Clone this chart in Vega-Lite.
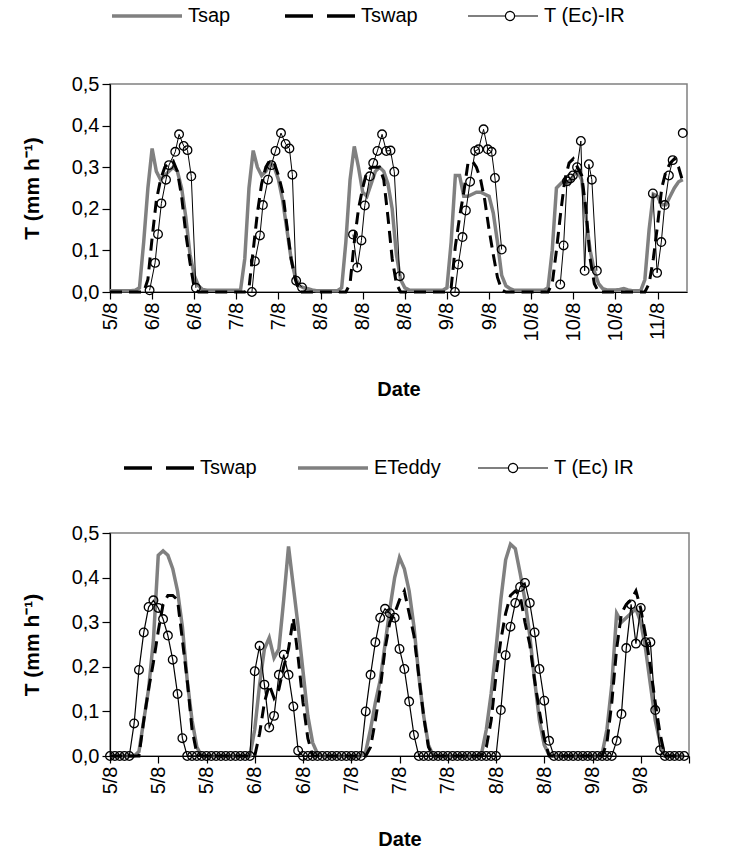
{
  "$schema": "https://vega.github.io/schema/vega-lite/v6.json",
  "padding": {"left": 20, "top": 5, "right": 5, "bottom": 0},
  "config": {
    "font": "Liberation Sans",
    "view": {"stroke": "#808080", "strokeWidth": 1.5},
    "axis": {"grid": false, "domainColor": "black", "tickColor": "black", "labelColor": "black", "titleColor": "black", "labelFont": "Liberation Sans", "titleFont": "Liberation Sans", "labelFontSize": 20, "titleFontSize": 20, "titleFontWeight": "bold", "domainWidth": 1.2, "tickWidth": 1.2},
    "axisY": {"titleFontSize": 21},
    "legend": {"labelFontSize": 20, "labelFont": "Liberation Sans", "labelColor": "black"}
  },
  "datasets": {
    "top": [
      {"i":0,"Tsap":0.003,"Tswap":0},{"i":1,"Tsap":0.003,"Tswap":0},{"i":2,"Tsap":0.003,"Tswap":0},{"i":3,"Tsap":0.003,"Tswap":0},{"i":4,"Tsap":0.003,"Tswap":0},{"i":5,"Tsap":0.003,"Tswap":0},{"i":6,"Tsap":0.004,"Tswap":0},{"i":7,"Tsap":0.01,"Tswap":0},{"i":8,"Tsap":0.12,"Tswap":0},{"i":9,"Tsap":0.25,"Tswap":0.03},
      {"i":10,"Tsap":0.345,"Tswap":0.13},{"i":11,"Tsap":0.29,"Tswap":0.22},{"i":12,"Tsap":0.27,"Tswap":0.27},{"i":13,"Tsap":0.28,"Tswap":0.30},{"i":14,"Tsap":0.29,"Tswap":0.31},{"i":15,"Tsap":0.30,"Tswap":0.315},{"i":16,"Tsap":0.29,"Tswap":0.29},{"i":17,"Tsap":0.25,"Tswap":0.23},{"i":18,"Tsap":0.18,"Tswap":0.14},{"i":19,"Tsap":0.09,"Tswap":0.07},
      {"i":20,"Tsap":0.04,"Tswap":0.01},{"i":21,"Tsap":0.015,"Tswap":0},{"i":22,"Tsap":0.006,"Tswap":0},{"i":23,"Tsap":0.004,"Tswap":0},{"i":24,"Tsap":0.004,"Tswap":0},{"i":25,"Tsap":0.004,"Tswap":0},{"i":26,"Tsap":0.004,"Tswap":0},{"i":27,"Tsap":0.004,"Tswap":0},{"i":28,"Tsap":0.004,"Tswap":0},{"i":29,"Tsap":0.004,"Tswap":0},
      {"i":30,"Tsap":0.004,"Tswap":0},{"i":31,"Tsap":0.005,"Tswap":0},{"i":32,"Tsap":0.08,"Tswap":0},{"i":33,"Tsap":0.25,"Tswap":0.01},{"i":34,"Tsap":0.34,"Tswap":0.10},{"i":35,"Tsap":0.30,"Tswap":0.19},{"i":36,"Tsap":0.28,"Tswap":0.26},{"i":37,"Tsap":0.29,"Tswap":0.30},{"i":38,"Tsap":0.31,"Tswap":0.317},{"i":39,"Tsap":0.30,"Tswap":0.31},
      {"i":40,"Tsap":0.27,"Tswap":0.28},{"i":41,"Tsap":0.22,"Tswap":0.24},{"i":42,"Tsap":0.15,"Tswap":0.16},{"i":43,"Tsap":0.08,"Tswap":0.08},{"i":44,"Tsap":0.035,"Tswap":0.03},{"i":45,"Tsap":0.015,"Tswap":0},{"i":46,"Tsap":0.01,"Tswap":0},{"i":47,"Tsap":0.008,"Tswap":0},{"i":48,"Tsap":0.005,"Tswap":0},{"i":49,"Tsap":0.003,"Tswap":0},
      {"i":50,"Tsap":0.003,"Tswap":0},{"i":51,"Tsap":0.003,"Tswap":0},{"i":52,"Tsap":0.003,"Tswap":0},{"i":53,"Tsap":0.003,"Tswap":0},{"i":54,"Tsap":0.003,"Tswap":0},{"i":55,"Tsap":0.01,"Tswap":0},{"i":56,"Tsap":0.12,"Tswap":0},{"i":57,"Tsap":0.27,"Tswap":0.02},{"i":58,"Tsap":0.35,"Tswap":0.12},{"i":59,"Tsap":0.30,"Tswap":0.20},
      {"i":60,"Tsap":0.24,"Tswap":0.25},{"i":61,"Tsap":0.23,"Tswap":0.29},{"i":62,"Tsap":0.26,"Tswap":0.30},{"i":63,"Tsap":0.29,"Tswap":0.30},{"i":64,"Tsap":0.30,"Tswap":0.30},{"i":65,"Tsap":0.29,"Tswap":0.27},{"i":66,"Tsap":0.26,"Tswap":0.18},{"i":67,"Tsap":0.20,"Tswap":0.08},{"i":68,"Tsap":0.09,"Tswap":0.02},{"i":69,"Tsap":0.03,"Tswap":0},
      {"i":70,"Tsap":0.01,"Tswap":0},{"i":71,"Tsap":0.005,"Tswap":0},{"i":72,"Tsap":0.004,"Tswap":0},{"i":73,"Tsap":0.004,"Tswap":0},{"i":74,"Tsap":0.004,"Tswap":0},{"i":75,"Tsap":0.004,"Tswap":0},{"i":76,"Tsap":0.004,"Tswap":0},{"i":77,"Tsap":0.004,"Tswap":0},{"i":78,"Tsap":0.004,"Tswap":0},{"i":79,"Tsap":0.004,"Tswap":0},
      {"i":80,"Tsap":0.01,"Tswap":0},{"i":81,"Tsap":0.12,"Tswap":0.01},{"i":82,"Tsap":0.28,"Tswap":0.11},{"i":83,"Tsap":0.28,"Tswap":0.18},{"i":84,"Tsap":0.23,"Tswap":0.24},{"i":85,"Tsap":0.23,"Tswap":0.31},{"i":86,"Tsap":0.235,"Tswap":0.315},{"i":87,"Tsap":0.24,"Tswap":0.30},{"i":88,"Tsap":0.24,"Tswap":0.27},{"i":89,"Tsap":0.235,"Tswap":0.22},
      {"i":90,"Tsap":0.23,"Tswap":0.15},{"i":91,"Tsap":0.19,"Tswap":0.09},{"i":92,"Tsap":0.12,"Tswap":0.035},{"i":93,"Tsap":0.04,"Tswap":0.005},{"i":94,"Tsap":0.015,"Tswap":0},{"i":95,"Tsap":0.008,"Tswap":0},{"i":96,"Tsap":0.004,"Tswap":0},{"i":97,"Tsap":0.004,"Tswap":0},{"i":98,"Tsap":0.004,"Tswap":0},{"i":99,"Tsap":0.004,"Tswap":0},
      {"i":100,"Tsap":0.004,"Tswap":0},{"i":101,"Tsap":0.004,"Tswap":0},{"i":102,"Tsap":0.004,"Tswap":0},{"i":103,"Tsap":0.004,"Tswap":0},{"i":104,"Tsap":0.01,"Tswap":0},{"i":105,"Tsap":0.10,"Tswap":0.02},{"i":106,"Tsap":0.25,"Tswap":0.10},{"i":107,"Tsap":0.26,"Tswap":0.19},{"i":108,"Tsap":0.27,"Tswap":0.27},{"i":109,"Tsap":0.26,"Tswap":0.31},
      {"i":110,"Tsap":0.28,"Tswap":0.32},{"i":111,"Tsap":0.29,"Tswap":0.30},{"i":112,"Tsap":0.27,"Tswap":0.28},{"i":113,"Tsap":0.18,"Tswap":0.20},{"i":114,"Tsap":0.10,"Tswap":0.08},{"i":115,"Tsap":0.05,"Tswap":0.02},{"i":116,"Tsap":0.02,"Tswap":0},{"i":117,"Tsap":0.008,"Tswap":0},{"i":118,"Tsap":0.005,"Tswap":0},{"i":119,"Tsap":0.005,"Tswap":0},
      {"i":120,"Tsap":0.005,"Tswap":0},{"i":121,"Tsap":0.006,"Tswap":0},{"i":122,"Tsap":0.008,"Tswap":0},{"i":123,"Tsap":0.005,"Tswap":0},{"i":124,"Tsap":0.003,"Tswap":0},{"i":125,"Tsap":0.003,"Tswap":0},{"i":126,"Tsap":0.003,"Tswap":0},{"i":127,"Tsap":0.03,"Tswap":0},{"i":128,"Tsap":0.15,"Tswap":0.02},{"i":129,"Tsap":0.235,"Tswap":0.08},
      {"i":130,"Tsap":0.23,"Tswap":0.16},{"i":131,"Tsap":0.21,"Tswap":0.25},{"i":132,"Tsap":0.21,"Tswap":0.29},{"i":133,"Tsap":0.23,"Tswap":0.31},{"i":134,"Tsap":0.25,"Tswap":0.32},{"i":135,"Tsap":0.265,"Tswap":0.30},{"i":136,"Tsap":0.27,"Tswap":0.265}
    ],
    "topir": [
      {"i":9.4,"v":0.004,"seg":1},{"i":10.7,"v":0.07,"seg":1},{"i":11.4,"v":0.139,"seg":1},{"i":12.2,"v":0.213,"seg":1},{"i":13.3,"v":0.27,"seg":1},{"i":14.0,"v":0.305,"seg":1},{"i":15.5,"v":0.337,"seg":1},{"i":16.4,"v":0.379,"seg":1},{"i":17.5,"v":0.351,"seg":1},{"i":18.4,"v":0.341,"seg":1},{"i":19.3,"v":0.278,"seg":1},{"i":20.4,"v":0.01,"seg":1},
      {"i":33.7,"v":0.0,"seg":2},{"i":34.4,"v":0.074,"seg":2},{"i":35.6,"v":0.136,"seg":2},{"i":36.3,"v":0.209,"seg":2},{"i":37.5,"v":0.27,"seg":2},{"i":38.3,"v":0.305,"seg":2},{"i":39.3,"v":0.339,"seg":2},{"i":40.6,"v":0.382,"seg":2},{"i":41.7,"v":0.356,"seg":2},{"i":42.6,"v":0.345,"seg":2},{"i":43.3,"v":0.282,"seg":2},{"i":44.2,"v":0.027,"seg":2},{"i":45.6,"v":0.011,"seg":2},
      {"i":57.7,"v":0.138,"seg":3},{"i":58.7,"v":0.059,"seg":3},{"i":59.7,"v":0.124,"seg":3},{"i":60.5,"v":0.208,"seg":3},{"i":61.7,"v":0.278,"seg":3},{"i":62.5,"v":0.31,"seg":3},{"i":63.5,"v":0.339,"seg":3},{"i":64.6,"v":0.379,"seg":3},{"i":65.6,"v":0.339,"seg":3},{"i":66.6,"v":0.34,"seg":3},{"i":67.5,"v":0.289,"seg":3},{"i":68.8,"v":0.038,"seg":3},
      {"i":81.9,"v":0.0,"seg":4},{"i":82.7,"v":0.066,"seg":4},{"i":83.7,"v":0.132,"seg":4},{"i":84.5,"v":0.196,"seg":4},{"i":85.5,"v":0.265,"seg":4},{"i":86.7,"v":0.339,"seg":4},{"i":87.5,"v":0.343,"seg":4},{"i":88.7,"v":0.391,"seg":4},{"i":89.7,"v":0.343,"seg":4},{"i":90.6,"v":0.337,"seg":4},{"i":91.4,"v":0.274,"seg":4},{"i":93.0,"v":0.102,"seg":4},
      {"i":106.9,"v":0.018,"seg":5},{"i":107.7,"v":0.112,"seg":5},{"i":108.5,"v":0.266,"seg":5},{"i":109.3,"v":0.273,"seg":5},{"i":109.9,"v":0.28,"seg":5},{"i":110.9,"v":0.30,"seg":5},{"i":111.8,"v":0.363,"seg":5},{"i":112.7,"v":0.051,"seg":5},{"i":113.7,"v":0.307,"seg":5},{"i":114.4,"v":0.27,"seg":5},{"i":115.6,"v":0.051,"seg":5},
      {"i":128.9,"v":0.237,"seg":6},{"i":129.9,"v":0.046,"seg":6},{"i":130.9,"v":0.12,"seg":6},{"i":131.7,"v":0.209,"seg":6},{"i":132.7,"v":0.28,"seg":6},{"i":133.6,"v":0.317,"seg":6},
      {"i":136.0,"v":0.382,"seg":7}
    ],
    "bot": [
      {"i":0,"Tswap":0,"ETeddy":0,"IR":0},{"i":1,"Tswap":0,"ETeddy":0,"IR":0},{"i":2,"Tswap":0,"ETeddy":0,"IR":0},{"i":3,"Tswap":0,"ETeddy":0,"IR":0},{"i":4,"Tswap":0,"ETeddy":0,"IR":0},{"i":5,"Tswap":0,"ETeddy":0,"IR":0.073},{"i":6,"Tswap":0,"ETeddy":0.01,"IR":0.193},{"i":7,"Tswap":0.08,"ETeddy":0.08,"IR":0.277},{"i":8,"Tswap":0.15,"ETeddy":0.15,"IR":0.334},{"i":9,"Tswap":0.21,"ETeddy":0.26,"IR":0.349},
      {"i":10,"Tswap":0.28,"ETeddy":0.45,"IR":0.332},{"i":11,"Tswap":0.34,"ETeddy":0.46,"IR":0.307},{"i":12,"Tswap":0.36,"ETeddy":0.45,"IR":0.27},{"i":13,"Tswap":0.36,"ETeddy":0.42,"IR":0.216},{"i":14,"Tswap":0.35,"ETeddy":0.37,"IR":0.139},{"i":15,"Tswap":0.26,"ETeddy":0.29,"IR":0.04},{"i":16,"Tswap":0.17,"ETeddy":0.17,"IR":0},{"i":17,"Tswap":0.06,"ETeddy":0.08,"IR":0},{"i":18,"Tswap":0.005,"ETeddy":0.02,"IR":0},{"i":19,"Tswap":0,"ETeddy":0,"IR":0},
      {"i":20,"Tswap":0,"ETeddy":0,"IR":0},{"i":21,"Tswap":0,"ETeddy":0,"IR":0},{"i":22,"Tswap":0,"ETeddy":0,"IR":0},{"i":23,"Tswap":0,"ETeddy":0,"IR":0},{"i":24,"Tswap":0,"ETeddy":0,"IR":0},{"i":25,"Tswap":0,"ETeddy":0,"IR":0},{"i":26,"Tswap":0,"ETeddy":0,"IR":0},{"i":27,"Tswap":0,"ETeddy":0,"IR":0},{"i":28,"Tswap":0,"ETeddy":0,"IR":0},{"i":29,"Tswap":0,"ETeddy":0,"IR":0},
      {"i":30,"Tswap":0,"ETeddy":0.06,"IR":0.19},{"i":31,"Tswap":0.05,"ETeddy":0.16,"IR":0.247},{"i":32,"Tswap":0.12,"ETeddy":0.24,"IR":0.16},{"i":33,"Tswap":0.16,"ETeddy":0.265,"IR":0.064},{"i":34,"Tswap":0.13,"ETeddy":0.22,"IR":0.09},{"i":35,"Tswap":0.15,"ETeddy":0.24,"IR":0.182},{"i":36,"Tswap":0.2,"ETeddy":0.35,"IR":0.227},{"i":37,"Tswap":0.24,"ETeddy":0.47,"IR":0.182},{"i":38,"Tswap":0.31,"ETeddy":0.38,"IR":0.111},{"i":39,"Tswap":0.22,"ETeddy":0.29,"IR":0.012},
      {"i":40,"Tswap":0.12,"ETeddy":0.19,"IR":0},{"i":41,"Tswap":0.04,"ETeddy":0.09,"IR":0},{"i":42,"Tswap":0,"ETeddy":0.03,"IR":0},{"i":43,"Tswap":0,"ETeddy":0.005,"IR":0},{"i":44,"Tswap":0,"ETeddy":0,"IR":0},{"i":45,"Tswap":0,"ETeddy":0,"IR":0},{"i":46,"Tswap":0,"ETeddy":0,"IR":0},{"i":47,"Tswap":0,"ETeddy":0,"IR":0},{"i":48,"Tswap":0,"ETeddy":0,"IR":0},{"i":49,"Tswap":0,"ETeddy":0,"IR":0},
      {"i":50,"Tswap":0,"ETeddy":0,"IR":0},{"i":51,"Tswap":0,"ETeddy":0,"IR":0},{"i":52,"Tswap":0,"ETeddy":0,"IR":0},{"i":53,"Tswap":0,"ETeddy":0.01,"IR":0.1},{"i":54,"Tswap":0.02,"ETeddy":0.06,"IR":0.182},{"i":55,"Tswap":0.08,"ETeddy":0.12,"IR":0.255},{"i":56,"Tswap":0.15,"ETeddy":0.17,"IR":0.31},{"i":57,"Tswap":0.24,"ETeddy":0.25,"IR":0.33},{"i":58,"Tswap":0.3,"ETeddy":0.33,"IR":0.32},{"i":59,"Tswap":0.32,"ETeddy":0.40,"IR":0.31},
      {"i":60,"Tswap":0.35,"ETeddy":0.445,"IR":0.24},{"i":61,"Tswap":0.37,"ETeddy":0.42,"IR":0.195},{"i":62,"Tswap":0.32,"ETeddy":0.37,"IR":0.122},{"i":63,"Tswap":0.27,"ETeddy":0.29,"IR":0.047},{"i":64,"Tswap":0.18,"ETeddy":0.18,"IR":0},{"i":65,"Tswap":0.09,"ETeddy":0.09,"IR":0},{"i":66,"Tswap":0.02,"ETeddy":0.025,"IR":0},{"i":67,"Tswap":0,"ETeddy":0,"IR":0},{"i":68,"Tswap":0,"ETeddy":0,"IR":0},{"i":69,"Tswap":0,"ETeddy":0,"IR":0},
      {"i":70,"Tswap":0,"ETeddy":0,"IR":0},{"i":71,"Tswap":0,"ETeddy":0,"IR":0},{"i":72,"Tswap":0,"ETeddy":0,"IR":0},{"i":73,"Tswap":0,"ETeddy":0,"IR":0},{"i":74,"Tswap":0,"ETeddy":0,"IR":0},{"i":75,"Tswap":0,"ETeddy":0,"IR":0},{"i":76,"Tswap":0,"ETeddy":0,"IR":0},{"i":77,"Tswap":0,"ETeddy":0.005,"IR":0},{"i":78,"Tswap":0.02,"ETeddy":0.06,"IR":0},{"i":79,"Tswap":0.08,"ETeddy":0.14,"IR":0},
      {"i":80,"Tswap":0.18,"ETeddy":0.24,"IR":0},{"i":81,"Tswap":0.26,"ETeddy":0.35,"IR":0.103},{"i":82,"Tswap":0.32,"ETeddy":0.44,"IR":0.226},{"i":83,"Tswap":0.36,"ETeddy":0.475,"IR":0.29},{"i":84,"Tswap":0.37,"ETeddy":0.465,"IR":0.343},{"i":85,"Tswap":0.36,"ETeddy":0.41,"IR":0.379},{"i":86,"Tswap":0.3,"ETeddy":0.35,"IR":0.388},{"i":87,"Tswap":0.25,"ETeddy":0.27,"IR":0.343},{"i":88,"Tswap":0.17,"ETeddy":0.17,"IR":0.277},{"i":89,"Tswap":0.1,"ETeddy":0.08,"IR":0.195},
      {"i":90,"Tswap":0.04,"ETeddy":0.025,"IR":0.124},{"i":91,"Tswap":0,"ETeddy":0.003,"IR":0.034},{"i":92,"Tswap":0,"ETeddy":0,"IR":0},{"i":93,"Tswap":0,"ETeddy":0,"IR":0},{"i":94,"Tswap":0,"ETeddy":0,"IR":0},{"i":95,"Tswap":0,"ETeddy":0,"IR":0},{"i":96,"Tswap":0,"ETeddy":0,"IR":0},{"i":97,"Tswap":0,"ETeddy":0,"IR":0},{"i":98,"Tswap":0,"ETeddy":0,"IR":0},{"i":99,"Tswap":0,"ETeddy":0,"IR":0},
      {"i":100,"Tswap":0,"ETeddy":0,"IR":0},{"i":101,"Tswap":0,"ETeddy":0,"IR":0},{"i":102,"Tswap":0,"ETeddy":0.005,"IR":0},{"i":103,"Tswap":0.03,"ETeddy":0.06,"IR":0},{"i":104,"Tswap":0.12,"ETeddy":0.16,"IR":0},{"i":105,"Tswap":0.24,"ETeddy":0.32,"IR":0.034},{"i":106,"Tswap":0.32,"ETeddy":0.30,"IR":0.094},{"i":107,"Tswap":0.34,"ETeddy":0.31,"IR":0.242},{"i":108,"Tswap":0.35,"ETeddy":0.32,"IR":0.34},{"i":109,"Tswap":0.37,"ETeddy":0.33,"IR":0.252},
      {"i":110,"Tswap":0.33,"ETeddy":0.30,"IR":0.332},{"i":111,"Tswap":0.27,"ETeddy":0.24,"IR":0.255},{"i":112,"Tswap":0.2,"ETeddy":0.16,"IR":0.255},{"i":113,"Tswap":0.12,"ETeddy":0.08,"IR":0.103},{"i":114,"Tswap":0.05,"ETeddy":0.03,"IR":0.013},{"i":115,"Tswap":0,"ETeddy":0,"IR":0},{"i":116,"Tswap":0,"ETeddy":0,"IR":0},{"i":117,"Tswap":0,"ETeddy":0,"IR":0},{"i":118,"Tswap":0,"ETeddy":0,"IR":0},{"i":119,"Tswap":0,"ETeddy":0,"IR":0}
    ]
  },
  "resolve": {"scale": {"color": "independent", "x": "independent", "y": "independent"}, "legend": {"color": "independent"}},
  "spacing": 56,
  "vconcat": [
    {
      "width": 577,
      "height": 208,
      "layer": [
        {
          "data": {"name": "top"},
          "mark": {"type": "line", "strokeWidth": 3.5},
          "encoding": {
            "x": {"field": "i", "type": "quantitative", "title": "Date", "scale": {"domain": [0, 137], "nice": false, "zero": false},
              "axis": {"values": [0,5,10,15,20,25,30,35,40,45,50,55,60,65,70,75,80,85,90,95,100,105,110,115,120,125,130,135],
                "labelExpr": "datum.value % 10 == 0 ? ['5/8','6/8','6/8','7/8','7/8','8/8','8/8','8/8','9/8','9/8','10/8','10/8','10/8','11/8'][datum.value / 10] : ''",
                "labelAngle": -90, "tickSize": 7, "labelPadding": 3, "labelOverlap": false, "labelFlush": false, "titlePadding": 39}},
            "y": {"field": "Tsap", "type": "quantitative", "title": "T (mm h⁻¹)", "scale": {"domain": [0, 0.5], "nice": false},
              "axis": {"values": [0, 0.1, 0.2, 0.3, 0.4, 0.5], "format": ".1f", "labelExpr": "replace(datum.label, '.', ',')", "tickSize": 8, "labelPadding": 3, "titlePadding": 29}},
            "color": {"datum": "Tsap", "type": "nominal",
              "scale": {"domain": ["Tsap", "Tswap", "T (Ec)-IR"], "range": ["#808080", "#000000", "#000000"]},
              "legend": {"orient": "none", "legendX": 27, "legendY": -78, "direction": "horizontal", "title": null,
                "symbolType": "stroke", "symbolSize": 4900, "columnPadding": 47, "labelOffset": 31,
                "encode": {"symbols": {"update": {
                  "shape": {"signal": "datum.value === 'T (Ec)-IR' ? 'M-1,0H0.07M0.33,0H1M0.33,0A0.13,0.13,0,1,1,0.07,0A0.13,0.13,0,1,1,0.33,0' : 'stroke'"},
                  "strokeDash": {"signal": "datum.value === 'Tswap' ? [28,14] : [1,0]"},
                  "strokeWidth": {"signal": "datum.value === 'T (Ec)-IR' ? 1.2 : 3.5"},
                  "fill": {"value": "transparent"},
                  "opacity": {"value": 1}
                }}}}}
          }
        },
        {
          "data": {"name": "top"},
          "mark": {"type": "line", "strokeWidth": 3, "strokeDash": [12, 7]},
          "encoding": {
            "x": {"field": "i", "type": "quantitative", "title": "Date"},
            "y": {"field": "Tswap", "type": "quantitative", "title": "T (mm h⁻¹)"},
            "color": {"datum": "Tswap", "type": "nominal"}
          }
        },
        {
          "data": {"name": "topir"},
          "mark": {"type": "line", "strokeWidth": 1},
          "encoding": {
            "x": {"field": "i", "type": "quantitative", "title": "Date"},
            "y": {"field": "v", "type": "quantitative", "title": "T (mm h⁻¹)"},
            "detail": {"field": "seg", "type": "nominal"},
            "color": {"datum": "T (Ec)-IR", "type": "nominal"}
          }
        },
        {
          "data": {"name": "topir"},
          "mark": {"type": "point", "shape": "circle", "filled": false, "color": "black", "size": 75, "strokeWidth": 1.3, "opacity": 1},
          "encoding": {
            "x": {"field": "i", "type": "quantitative", "title": "Date"},
            "y": {"field": "v", "type": "quantitative", "title": "T (mm h⁻¹)"}
          }
        }
      ]
    },
    {
      "width": 579,
      "height": 223,
      "data": {"name": "bot"},
      "layer": [
        {
          "mark": {"type": "line", "strokeWidth": 3.5},
          "encoding": {
            "x": {"field": "i", "type": "quantitative", "title": "Date", "scale": {"domain": [0, 120], "nice": false, "zero": false},
              "axis": {"values": [0,5,10,15,20,25,30,35,40,45,50,55,60,65,70,75,80,85,90,95,100,105,110,115,120],
                "labelExpr": "datum.value % 10 == 0 && datum.value <= 110 ? ['5/8','5/8','5/8','6/8','6/8','7/8','7/8','7/8','8/8','8/8','9/8','9/8'][datum.value / 10] : ''",
                "labelAngle": -90, "tickSize": 7, "labelPadding": 3, "labelOverlap": false, "labelFlush": false, "titlePadding": 36}},
            "y": {"field": "ETeddy", "type": "quantitative", "title": "T (mm h⁻¹)", "scale": {"domain": [0, 0.5], "nice": false},
              "axis": {"values": [0, 0.1, 0.2, 0.3, 0.4, 0.5], "format": ".1f", "labelExpr": "replace(datum.label, '.', ',')", "tickSize": 8, "labelPadding": 3, "titlePadding": 29}},
            "color": {"datum": "ETeddy", "type": "nominal",
              "scale": {"domain": ["Tswap", "ETeddy", "T (Ec) IR"], "range": ["#000000", "#808080", "#000000"]},
              "legend": {"orient": "none", "legendX": 39, "legendY": -75, "direction": "horizontal", "title": null,
                "symbolType": "stroke", "symbolSize": 4900, "columnPadding": 34, "labelOffset": 31,
                "encode": {"symbols": {"update": {
                  "shape": {"signal": "datum.value === 'T (Ec) IR' ? 'M-1,0H-0.13M0.13,0H1M0.13,0A0.13,0.13,0,1,1,-0.13,0A0.13,0.13,0,1,1,0.13,0' : 'stroke'"},
                  "strokeDash": {"signal": "datum.value === 'Tswap' ? [28,14] : [1,0]"},
                  "strokeWidth": {"signal": "datum.value === 'T (Ec) IR' ? 1.2 : 3.5"},
                  "fill": {"value": "transparent"},
                  "opacity": {"value": 1}
                }}}}}
          }
        },
        {
          "mark": {"type": "line", "strokeWidth": 3, "strokeDash": [12, 7]},
          "encoding": {
            "x": {"field": "i", "type": "quantitative", "title": "Date"},
            "y": {"field": "Tswap", "type": "quantitative", "title": "T (mm h⁻¹)"},
            "color": {"datum": "Tswap", "type": "nominal"}
          }
        },
        {
          "mark": {"type": "line", "strokeWidth": 1.2},
          "encoding": {
            "x": {"field": "i", "type": "quantitative", "title": "Date"},
            "y": {"field": "IR", "type": "quantitative", "title": "T (mm h⁻¹)"},
            "color": {"datum": "T (Ec) IR", "type": "nominal"}
          }
        },
        {
          "mark": {"type": "point", "shape": "circle", "filled": false, "color": "black", "size": 75, "strokeWidth": 1.3, "opacity": 1},
          "encoding": {
            "x": {"field": "i", "type": "quantitative", "title": "Date"},
            "y": {"field": "IR", "type": "quantitative", "title": "T (mm h⁻¹)"}
          }
        }
      ]
    }
  ]
}
